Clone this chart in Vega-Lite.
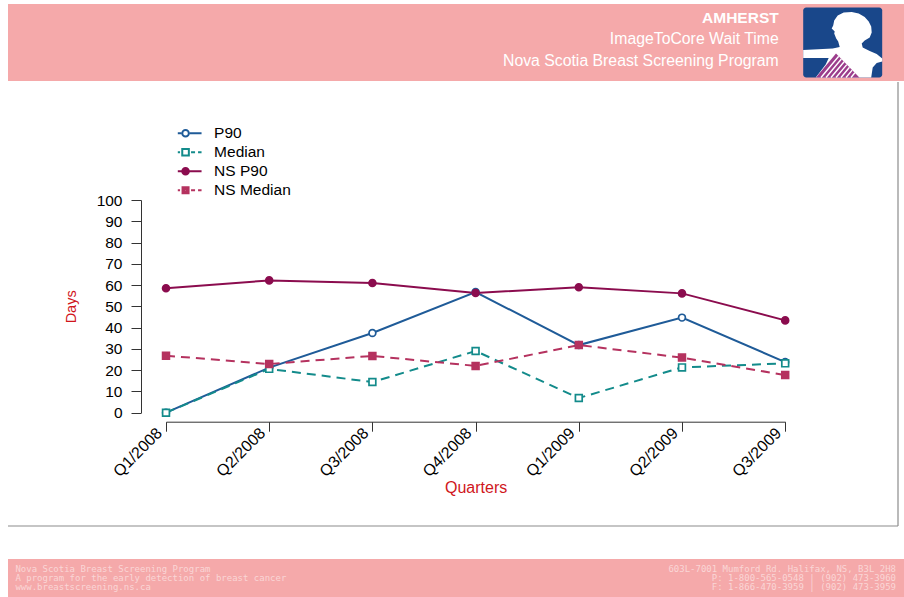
{
  "$schema": "https://vega.github.io/schema/vega-lite/v6.json",
  "background": "white",
  "padding": {"left": 7, "top": 4, "right": 0, "bottom": 0},
  "spacing": 0,
  "config": {"view": {"stroke": null}, "font": "Liberation Sans"},
  "vconcat": [
    {
      "width": 897,
      "height": 77,
      "view": {"fill": "#f5a9aa", "stroke": null},
      "layer": [
        {
          "data": {"values": [{"line": 1, "text": "AMHERST"}]},
          "mark": {"type": "text", "align": "right", "baseline": "alphabetic", "dx": -126.3, "fontSize": 15.5, "fontWeight": "bold", "fill": "white"},
          "encoding": {
            "x": {"value": "width"},
            "y": {"field": "line", "type": "ordinal", "scale": {"type": "point", "domain": [1, 2, 3], "range": [18.7, 61.8], "padding": 0}, "axis": null},
            "text": {"field": "text"}
          }
        },
        {
          "data": {"values": [{"line": 2, "text": "ImageToCore Wait Time"}, {"line": 3, "text": "Nova Scotia Breast Screening Program"}]},
          "mark": {"type": "text", "align": "right", "baseline": "alphabetic", "dx": -126.3, "fontSize": 15.8, "fill": "white"},
          "encoding": {
            "x": {"value": "width"},
            "y": {"field": "line", "type": "ordinal", "scale": {"type": "point", "domain": [1, 2, 3], "range": [18.7, 61.8], "padding": 0}, "axis": null},
            "text": {"field": "text"}
          }
        },
        {
          "data": {"values": [{"logo": "badge"}]},
          "mark": {"type": "point", "shape": "M-36.5,-35H36.5A3,3 0 0 1 39.5,-32V32A3,3 0 0 1 36.5,35H-36.5A3,3 0 0 1 -39.5,32V-32A3,3 0 0 1 -36.5,-35Z", "size": 4, "filled": true, "fill": "#19478a", "strokeWidth": 0, "opacity": 1, "xOffset": -62.3},
          "encoding": {"x": {"value": "width"}}
        },
        {
          "data": {"values": [{"logo": "figure"}]},
          "mark": {"type": "point", "shape": "M-39.5,7.5L-10,6L-3,4.5L-4.5,-1L-6.5,-4L-8.5,-9L-8,-11L-11,-14L-9.5,-17L-8.5,-22L-5,-27L1,-30L9,-30.5L16,-29L22,-25.5L26,-21L28.5,-16L29,-10L27,-5L22,-2L19,1L20,5L27,8.5L34,11.5L39.5,16L39.5,19L34,20.5L30,25L28.5,35L-27,35L-17,22L-14,15.5L-39.5,15.5Z", "size": 4, "filled": true, "fill": "white", "strokeWidth": 0, "opacity": 1, "xOffset": -62.3},
          "encoding": {"x": {"value": "width"}}
        },
        {
          "data": {"values": [{"logo": "cloth"}]},
          "mark": {"type": "point", "shape": "M-26.7,35L-6.7,11L16.7,35Z", "size": 4, "filled": true, "fill": "#9c3d8c", "strokeWidth": 0, "opacity": 1, "xOffset": -62.3},
          "encoding": {"x": {"value": "width"}}
        },
        {
          "data": {"values": [{"logo": "stripes"}]},
          "mark": {"type": "point", "shape": "M-21.7,35L-4,13.8M-16.7,35L-1.3,16.5M-11.7,35L1.4,19.3M-6.7,35L4.1,22.1M-1.7,35L6.8,24.8M3.3,35L9.5,27.6M8.3,35L12.2,30.3", "size": 4, "filled": false, "stroke": "white", "strokeWidth": 1.4, "opacity": 1, "xOffset": -62.3},
          "encoding": {"x": {"value": "width"}}
        }
      ]
    },
    {
      "spacing": 32,
      "vconcat": [
        {
          "width": 890,
          "height": 444,
          "view": {"fill": "white", "stroke": null},
          "layer": [
            {
              "data": {"values": [{"edge": "right"}]},
              "mark": {"type": "rule", "color": "#8c8c8c", "strokeWidth": 1.2},
              "encoding": {"x": {"value": "width"}}
            },
            {
              "data": {"values": [{"edge": "bottom"}]},
              "mark": {"type": "rule", "color": "#8c8c8c", "strokeWidth": 1.2},
              "encoding": {"y": {"value": "height"}}
            },
            {
              "data": {"values": [
                {"series": "P90", "quarter": "Q1/2008", "days": 0},
                {"series": "P90", "quarter": "Q2/2008", "days": 21.2},
                {"series": "P90", "quarter": "Q3/2008", "days": 37.5},
                {"series": "P90", "quarter": "Q4/2008", "days": 56.7},
                {"series": "P90", "quarter": "Q1/2009", "days": 31.8},
                {"series": "P90", "quarter": "Q2/2009", "days": 44.7},
                {"series": "P90", "quarter": "Q3/2009", "days": 23.8},
                {"series": "Median", "quarter": "Q1/2008", "days": 0},
                {"series": "Median", "quarter": "Q2/2008", "days": 20.6},
                {"series": "Median", "quarter": "Q3/2008", "days": 14.4},
                {"series": "Median", "quarter": "Q4/2008", "days": 29.0},
                {"series": "Median", "quarter": "Q1/2009", "days": 6.9},
                {"series": "Median", "quarter": "Q2/2009", "days": 21.3},
                {"series": "Median", "quarter": "Q3/2009", "days": 23.2},
                {"series": "NS P90", "quarter": "Q1/2008", "days": 58.5},
                {"series": "NS P90", "quarter": "Q2/2008", "days": 62.2},
                {"series": "NS P90", "quarter": "Q3/2008", "days": 61.0},
                {"series": "NS P90", "quarter": "Q4/2008", "days": 56.3},
                {"series": "NS P90", "quarter": "Q1/2009", "days": 59.0},
                {"series": "NS P90", "quarter": "Q2/2009", "days": 56.1},
                {"series": "NS P90", "quarter": "Q3/2009", "days": 43.4},
                {"series": "NS Median", "quarter": "Q1/2008", "days": 26.8},
                {"series": "NS Median", "quarter": "Q2/2008", "days": 22.9},
                {"series": "NS Median", "quarter": "Q3/2008", "days": 26.7},
                {"series": "NS Median", "quarter": "Q4/2008", "days": 22.0},
                {"series": "NS Median", "quarter": "Q1/2009", "days": 31.8},
                {"series": "NS Median", "quarter": "Q2/2009", "days": 25.9},
                {"series": "NS Median", "quarter": "Q3/2009", "days": 17.7}
              ]},
              "encoding": {
                "x": {
                  "field": "quarter", "type": "ordinal",
                  "scale": {"type": "point", "domain": ["Q1/2008", "Q2/2008", "Q3/2008", "Q4/2008", "Q1/2009", "Q2/2009", "Q3/2009"], "range": [158, 777.2], "padding": 0},
                  "axis": {"title": "Quarters", "orient": "bottom", "offset": -104.3, "labelAngle": -45, "labelAlign": "right", "labelBaseline": "middle", "labelFontSize": 16, "labelFont": "Liberation Sans", "labelColor": "black", "labelPadding": -1, "labelOffset": -7, "labelOverlap": false, "tickSize": 9.5, "tickColor": "#333333", "tickWidth": 1, "domainColor": "#333333", "domainWidth": 1, "grid": false, "titleColor": "#d0161c", "titleFont": "Liberation Sans", "titleFontSize": 16, "titleFontWeight": "normal", "titlePadding": 0}
                },
                "y": {
                  "field": "days", "type": "quantitative",
                  "scale": {"domain": [0, 100], "range": [330.7, 118], "nice": false, "zero": false},
                  "axis": {"title": "Days", "orient": "left", "offset": -133, "values": [0, 10, 20, 30, 40, 50, 60, 70, 80, 90, 100], "format": "d", "labelFontSize": 15.5, "labelFont": "Liberation Sans", "labelColor": "black", "labelPadding": 9, "labelOverlap": false, "tickSize": 10, "tickColor": "#333333", "tickWidth": 1, "domainColor": "#333333", "domainWidth": 1, "grid": false, "titleColor": "#d0161c", "titleFont": "Liberation Sans", "titleFontSize": 14.5, "titleFontWeight": "normal", "titlePadding": 18}
                }
              },
              "resolve": {"scale": {"stroke": "independent", "fill": "independent", "size": "independent", "shape": "independent"}, "legend": {"stroke": "independent", "fill": "independent", "size": "independent", "shape": "independent"}},
              "layer": [
                {
                  "transform": [{"filter": {"field": "series", "oneOf": ["P90", "NS P90"]}}],
                  "mark": {"type": "line", "strokeWidth": 2},
                  "encoding": {
                    "stroke": {"field": "series", "type": "nominal", "scale": {"domain": ["P90", "Median", "NS P90", "NS Median"], "range": ["#1f5b98", "#138b8b", "#8b0c4e", "#b5325f"]}, "legend": null},
                    "order": {"value": null}
                  }
                },
                {
                  "transform": [{"filter": {"field": "series", "oneOf": ["Median", "NS Median"]}}],
                  "mark": {"type": "line", "strokeWidth": 2, "strokeDash": [9, 6]},
                  "encoding": {
                    "stroke": {"field": "series", "type": "nominal", "scale": {"domain": ["P90", "Median", "NS P90", "NS Median"], "range": ["#1f5b98", "#138b8b", "#8b0c4e", "#b5325f"]}, "legend": null},
                    "order": {"value": null}
                  }
                },
                {
                  "transform": [{"filter": {"field": "series", "oneOf": ["P90", "NS P90"]}}],
                  "mark": {"type": "point", "shape": "circle", "filled": true, "strokeWidth": 1.7, "opacity": 1},
                  "encoding": {
                    "stroke": {"field": "series", "type": "nominal", "scale": {"domain": ["P90", "Median", "NS P90", "NS Median"], "range": ["#1f5b98", "#138b8b", "#8b0c4e", "#b5325f"]}, "legend": null},
                    "fill": {"field": "series", "type": "nominal", "scale": {"domain": ["P90", "Median", "NS P90", "NS Median"], "range": ["white", "white", "#8b0c4e", "#b5325f"]}, "legend": null},
                    "size": {"field": "series", "type": "nominal", "scale": {"domain": ["P90", "Median", "NS P90", "NS Median"], "range": [46, 48, 26, 50]}, "legend": null}
                  }
                },
                {
                  "transform": [{"filter": {"field": "series", "oneOf": ["Median", "NS Median"]}}],
                  "mark": {"type": "point", "shape": "square", "filled": true, "strokeWidth": 1.7, "opacity": 1},
                  "encoding": {
                    "stroke": {"field": "series", "type": "nominal", "scale": {"domain": ["P90", "Median", "NS P90", "NS Median"], "range": ["#1f5b98", "#138b8b", "#8b0c4e", "#b5325f"]}, "legend": null},
                    "fill": {"field": "series", "type": "nominal", "scale": {"domain": ["P90", "Median", "NS P90", "NS Median"], "range": ["white", "white", "#8b0c4e", "#b5325f"]}, "legend": null},
                    "size": {"field": "series", "type": "nominal", "scale": {"domain": ["P90", "Median", "NS P90", "NS Median"], "range": [46, 46, 26, 52]}, "legend": null}
                  }
                },
                {
                  "mark": {"type": "point", "filled": true, "opacity": 0, "strokeWidth": 2},
                  "encoding": {
                    "stroke": {"field": "series", "type": "nominal", "scale": {"domain": ["P90", "Median", "NS P90", "NS Median"], "range": ["#1f5b98", "#138b8b", "#8b0c4e", "#b5325f"]},
                      "legend": {"orient": "none", "legendX": 169.8, "legendY": 41.8, "title": null, "padding": 0, "symbolSize": 4, "symbolStrokeWidth": 2, "clipHeight": 18.9, "rowPadding": 0, "symbolOffset": 0, "labelOffset": 20.8, "labelFontSize": 15.5, "labelFont": "Liberation Sans", "labelColor": "black", "labelBaseline": "middle", "labelLimit": 300}},
                    "fill": {"field": "series", "type": "nominal", "scale": {"domain": ["P90", "Median", "NS P90", "NS Median"], "range": ["white", "white", "white", "white"]},
                      "legend": {"orient": "none", "legendX": 169.8, "legendY": 41.8, "title": null, "padding": 0, "symbolSize": 4, "symbolStrokeWidth": 2, "clipHeight": 18.9, "rowPadding": 0, "symbolOffset": 0, "labelOffset": 20.8, "labelFontSize": 15.5, "labelFont": "Liberation Sans", "labelColor": "black", "labelBaseline": "middle", "labelLimit": 300}},
                    "shape": {"field": "series", "type": "nominal", "scale": {"domain": ["P90", "Median", "NS P90", "NS Median"], "range": [
                        "M-16,0H-4.3M4.3,0H16M-3.3,0A3.3,3.3 0 1 0 3.3,0A3.3,3.3 0 1 0 -3.3,0Z",
                        "M-16,0H-12.5M-9.5,0H-5.5M5.5,0H9.5M12.5,0H16M-3.3,-3.3H3.3V3.3H-3.3Z",
                        "M-16,0H16M-3.3,0A3.3,3.3 0 1 0 3.3,0A3.3,3.3 0 1 0 -3.3,0ZM-1.6,0A1.6,1.6 0 1 0 1.6,0A1.6,1.6 0 1 0 -1.6,0Z",
                        "M-16,0H-12.5M-9.5,0H-5.5M5.5,0H9.5M12.5,0H16M-3,-3H3V3H-3ZM-1.2,-1.2H1.2V1.2H-1.2Z"
                      ]},
                      "legend": {"orient": "none", "legendX": 169.8, "legendY": 41.8, "title": null, "padding": 0, "symbolSize": 4, "symbolStrokeWidth": 2, "clipHeight": 18.9, "rowPadding": 0, "symbolOffset": 0, "labelOffset": 20.8, "labelFontSize": 15.5, "labelFont": "Liberation Sans", "labelColor": "black", "labelBaseline": "middle", "labelLimit": 300}}
                  }
                }
              ]
            }
          ]
        },
        {
          "width": 897,
          "height": 40,
          "view": {"fill": "#f5a9aa", "stroke": null},
          "layer": [
            {
              "data": {"values": [
                {"line": 1, "text": "Nova Scotia Breast Screening Program"},
                {"line": 2, "text": "A program for the early detection of breast cancer"},
                {"line": 3, "text": "www.breastscreening.ns.ca"}
              ]},
              "mark": {"type": "text", "align": "left", "baseline": "middle", "dx": 7.4, "font": "DejaVu Sans Mono", "fontSize": 9, "fill": "#fad6d6"},
              "encoding": {
                "x": {"value": 0},
                "y": {"field": "line", "type": "ordinal", "scale": {"type": "point", "domain": [1, 2, 3], "range": [10, 28], "padding": 0}, "axis": null},
                "text": {"field": "text"}
              }
            },
            {
              "data": {"values": [
                {"line": 1, "text": "603L-7001 Mumford Rd.  Halifax, NS, B3L 2H8"},
                {"line": 2, "text": "P: 1-800-565-0548 | (902) 473-3960"},
                {"line": 3, "text": "F: 1-866-470-3959 | (902) 473-3959"}
              ]},
              "mark": {"type": "text", "align": "right", "baseline": "middle", "dx": -9, "font": "DejaVu Sans Mono", "fontSize": 9, "fill": "#fad6d6"},
              "encoding": {
                "x": {"value": "width"},
                "y": {"field": "line", "type": "ordinal", "scale": {"type": "point", "domain": [1, 2, 3], "range": [10, 28], "padding": 0}, "axis": null},
                "text": {"field": "text"}
              }
            }
          ]
        }
      ]
    }
  ]
}
